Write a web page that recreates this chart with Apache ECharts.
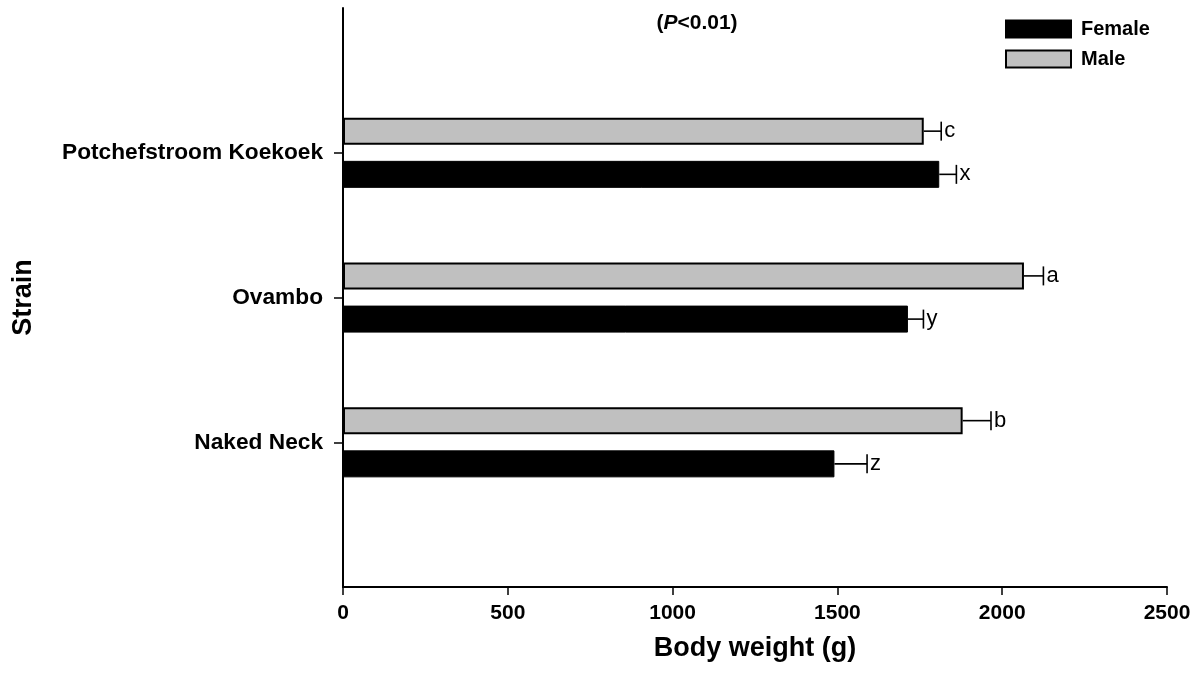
<!DOCTYPE html>
<html>
<head>
<meta charset="utf-8">
<title>Body weight by strain and sex</title>
<script src="https://cdn.jsdelivr.net/npm/echarts@6/dist/echarts.min.js"></script>
<style>
  html, body { margin: 0; padding: 0; background: #fff; }
  #chart { width: 1199px; height: 690px; }
</style>
</head>
<body>
<div id="chart"></div>
<script>
// Strains, listed bottom to top along the vertical axis
const strains = ['Naked Neck', 'Ovambo', 'Potchefstroom Koekoek'];

// Mean body weight (g) and standard error per strain
const femaleMean = [1491, 1714, 1809];
const femaleSE = [99, 47, 52];
const maleMean = [1880, 2066, 1762];
const maleSE = [86, 59, 53];

// Significance letters shown at the end of each error bar
const femaleLetters = ['z', 'y', 'x'];
const maleLetters = ['b', 'a', 'c'];

const xTicks = [0, 500, 1000, 1500, 2000, 2500];

// Empty slots at both ends give the strains room from the axis ends
const axisCats = [''].concat(strains, ['']);
const pad = (arr) => [null].concat(arr, [null]);

const FONT = '"Liberation Sans", Arial, sans-serif';
const BAR_W = 27;
const BAR_GAP = 0.6;
const HALF_STEP = (BAR_W + BAR_W * BAR_GAP) / 2;

function errorData(means, ses) {
  return means.map((m, i) => [i + 1, m, ses[i]]);
}

// Whisker from the bar end to mean + SE, a cap, and the letter beside it
function errorRenderer(letters, dir) {
  return function (params, api) {
    const cat = api.value(0);
    const mean = api.value(1);
    const se = api.value(2);
    const p0 = api.coord([mean, cat]);
    const p1 = api.coord([mean + se, cat]);
    const y = p0[1] + dir * HALF_STEP;
    const capH = 9.5;
    return {
      type: 'group',
      children: [
        { type: 'line', shape: { x1: p0[0], y1: y, x2: p1[0], y2: y },
          style: { stroke: '#000', lineWidth: 1.6 } },
        { type: 'line', shape: { x1: p1[0], y1: y - capH, x2: p1[0], y2: y + capH },
          style: { stroke: '#000', lineWidth: 1.6 } },
        { type: 'text', x: p1[0] + 3, y: y,
          style: { text: letters[params.dataIndex], fill: '#000',
                   font: '22px ' + FONT, verticalAlign: 'middle', align: 'left' } }
      ]
    };
  };
}

const chart = echarts.init(document.getElementById('chart'));
chart.setOption({
  animation: false,
  backgroundColor: '#fff',
  title: {
    text: '({i|P}<0.01)',
    left: 692, top: 8, textAlign: 'center',
    textStyle: {
      fontFamily: FONT, fontWeight: 'bold', fontSize: 21, color: '#000',
      rich: { i: { fontFamily: FONT, fontWeight: 'bold', fontStyle: 'italic', fontSize: 21, color: '#000' } }
    }
  },
  legend: {
    data: ['Female', 'Male'],
    orient: 'vertical',
    left: 1005, top: 19, padding: 0,
    itemWidth: 65, itemHeight: 17, itemGap: 10,
    icon: 'rect',
    textStyle: { fontFamily: FONT, fontWeight: 'bold', fontSize: 20, color: '#000', padding: [0, 0, 0, 5] }
  },
  grid: { left: 343, right: 32, top: 8, bottom: 103, containLabel: false },
  xAxis: {
    type: 'value',
    min: 0, max: 2500, interval: 500,
    name: 'Body weight (g)',
    nameLocation: 'middle',
    nameGap: 48,
    nameTextStyle: { fontFamily: FONT, fontWeight: 'bold', fontSize: 27, color: '#000' },
    axisLine: { show: true, lineStyle: { color: '#000', width: 2 } },
    axisTick: { show: true, length: 8, lineStyle: { color: '#000', width: 1.5 } },
    axisLabel: {
      margin: 16, fontFamily: FONT, fontWeight: 'bold', fontSize: 21, color: '#000',
      formatter: (v) => (xTicks.indexOf(v) >= 0 ? String(v) : '')
    },
    splitLine: { show: false }
  },
  yAxis: {
    type: 'category',
    data: axisCats,
    boundaryGap: false,
    name: 'Strain',
    nameLocation: 'middle',
    nameGap: 306,
    nameRotate: 90,
    nameTextStyle: { fontFamily: FONT, fontWeight: 'bold', fontSize: 27, color: '#000' },
    axisLine: { show: true, lineStyle: { color: '#000', width: 2 } },
    axisTick: {
      show: true, length: 9, alignWithLabel: true,
      interval: (idx, val) => val !== '',
      lineStyle: { color: '#000', width: 1.5 }
    },
    axisLabel: {
      margin: 20, interval: 0, fontFamily: FONT, fontWeight: 'bold', fontSize: 22.7, color: '#000'
    },
    splitLine: { show: false }
  },
  series: [
    {
      name: 'Male', type: 'bar', data: pad(maleMean),
      barWidth: BAR_W, barGap: (BAR_GAP * 100) + '%',
      itemStyle: { color: '#c0c0c0', borderColor: '#000', borderWidth: 2 }
    },
    {
      name: 'Female', type: 'bar', data: pad(femaleMean),
      barWidth: BAR_W, barGap: (BAR_GAP * 100) + '%',
      itemStyle: { color: '#000', borderColor: '#000', borderWidth: 1 }
    },
    {
      name: 'maleErr', type: 'custom', data: errorData(maleMean, maleSE),
      encode: { y: 0, x: 1 }, z: 3,
      renderItem: errorRenderer(maleLetters, -1)
    },
    {
      name: 'femaleErr', type: 'custom', data: errorData(femaleMean, femaleSE),
      encode: { y: 0, x: 1 }, z: 3,
      renderItem: errorRenderer(femaleLetters, 1)
    }
  ]
});
</script>
</body>
</html>
